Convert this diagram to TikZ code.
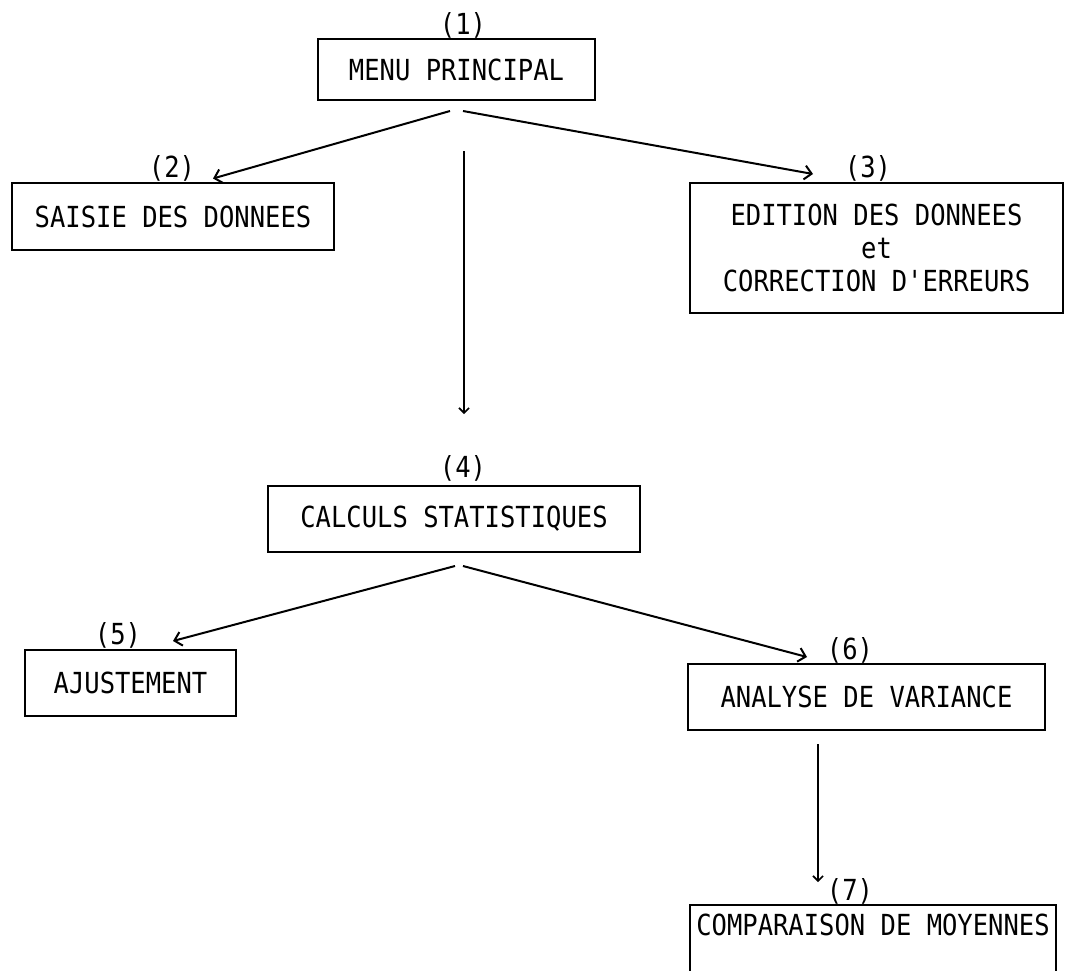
\documentclass[tikz,border=0pt]{standalone}
\usepackage{fontspec}
\newfontfamily\typew[FakeStretch=0.88]{DejaVu Sans Mono}
\usetikzlibrary{arrows.meta,positioning}

\begin{document}
\begin{tikzpicture}[
  x=1pt, y=-1pt,
  box/.style={draw, line width=2pt, inner sep=0pt, align=center, font=\typew\fontsize{29}{33}\selectfont},
  num/.style={inner sep=0pt, font=\typew\fontsize{29}{33}\selectfont},
  line/.style={-{Straight Barb[length=7pt, width=14pt, line width=2pt]}, line width=2pt},
  vline/.style={-{Straight Barb[length=5pt, width=10pt, line width=1.6pt]}, line width=1.6pt},
]
\useasboundingbox (0,0) rectangle (1066,970);

% === TOP: main menu ===
\node[box, minimum width=277pt, minimum height=61pt] (menu) at (456.5,69.5) {MENU PRINCIPAL};
\node[num] (l1) at (463,25) {(1)};

% === ROW 2: data entry / editing ===
\node[box, minimum width=322pt, minimum height=67pt] (saisie) at (173,216.5) {SAISIE DES DONNEES};
\node[num] (l2) at (172,168) {(2)};
\node[box, minimum width=373pt, minimum height=130pt] (edition) at (876.5,248) {EDITION DES DONNEES\\et\\CORRECTION D'ERREURS};
\node[num] (l3) at (868,168) {(3)};

\draw[line] ([shift={(-6.5,10)}]menu.south) -- ([shift={(40,-3.5)}]saisie.north);
\draw[line] ([shift={(6.5,10)}]menu.south) -- ([shift={(-63.5,-8)}]edition.north);

% === ROW 3: statistics ===
\node[box, minimum width=372pt, minimum height=66pt] (calc) at (454,519) {CALCULS STATISTIQUES};
\node[num] (l4) at (463,468) {(4)};

\draw[vline] ([shift={(7.5,50)}]menu.south) -- ([shift={(10,-71)}]calc.north);

% === ROW 4: fitting / variance ===
\node[box, minimum width=211pt, minimum height=66pt] (ajust) at (130.5,683) {AJUSTEMENT};
\node[num] (l5) at (118,635) {(5)};
\node[box, minimum width=357pt, minimum height=66pt] (anova) at (866.5,697) {ANALYSE DE VARIANCE};
\node[num] (l6) at (850,650) {(6)};

\draw[line] ([shift={(1,13)}]calc.south) -- ([shift={(42.5,-8)}]ajust.north);
\draw[line] ([shift={(9,13)}]calc.south) -- ([shift={(-59.5,-6)}]anova.north);

% === ROW 5: means comparison ===
\node[box, minimum width=366pt, minimum height=70pt, text depth=30pt] (moy) at (873,940) {COMPARAISON DE MOYENNES};
\node[num] (l7) at (850,891) {(7)};

\draw[vline] ([shift={(-48.5,13)}]anova.south) -- ([shift={(-55,-22)}]moy.north);

\end{tikzpicture}
\end{document}
